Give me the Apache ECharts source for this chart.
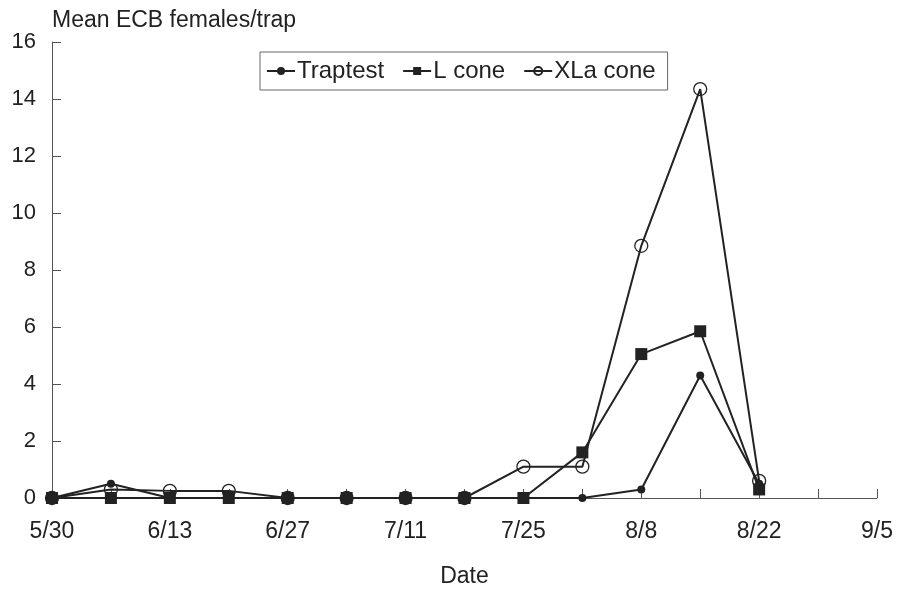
<!DOCTYPE html>
<html>
<head>
<meta charset="utf-8">
<script src="https://cdn.jsdelivr.net/npm/echarts@6/dist/echarts.min.js"></script>
<style>html,body{margin:0;padding:0;background:#fff}#c{width:901px;height:592px}</style>
</head>
<body>
<div id="c"></div>
<script>
// Weekly dates on the x axis (5/30 .. 9/5)
const weeks = ['5/30','6/6','6/13','6/20','6/27','7/4','7/11','7/18','7/25','8/1','8/8','8/15','8/22','8/29','9/5'];
// Series values, one per sampling week (5/30 .. 8/22)
const traptest = [0, 0.5, 0, 0, 0, 0, 0, 0, 0, 0, 0.3, 4.3, 0.5];
const lCone    = [0, 0, 0, 0, 0, 0, 0, 0, 0, 1.6, 5.05, 5.85, 0.3];
const xlaCone  = [0, 0.3, 0.25, 0.25, 0, 0, 0, 0, 1.1, 1.1, 8.85, 14.35, 0.6];
const yTicks = [0, 2, 4, 6, 8, 10, 12, 14, 16];

const font = '"Liberation Sans", Arial, Helvetica, sans-serif';
const ink = '#222';
const chart = echarts.init(document.getElementById('c'), null, {renderer: 'canvas'});
chart.setOption({
  backgroundColor: '#fff',
  animation: false,
  textStyle: {fontFamily: font, color: ink},
  grid: {left: 52, right: 24, top: 42, bottom: 94, containLabel: false, outerBoundsMode: 'none'},
  legend: {
    data: ['Traptest', 'L cone', 'XLa cone'],
    left: 260, top: 52,
    itemWidth: 28, itemHeight: 10, itemGap: 18,
    padding: [7, 12, 7, 6],
    borderColor: '#666', borderWidth: 1,
    textStyle: {fontFamily: font, fontSize: 24, color: ink, padding: [0, 0, 0, -3]}
  },
  xAxis: {
    type: 'category',
    data: weeks,
    boundaryGap: false,
    name: 'Date',
    nameLocation: 'middle',
    nameGap: 67,
    nameTextStyle: {fontFamily: font, fontSize: 23, color: ink},
    axisLine: {lineStyle: {color: '#555', width: 1}},
    axisTick: {inside: true, length: 9, interval: 0, lineStyle: {color: '#555'}},
    axisLabel: {interval: 1, margin: 22, fontFamily: font, fontSize: 23, color: ink},
    splitLine: {show: false}
  },
  yAxis: {
    type: 'value',
    min: yTicks[0], max: yTicks[yTicks.length - 1], interval: 2,
    name: 'Mean ECB females/trap',
    nameLocation: 'end',
    nameGap: 10,
    nameTextStyle: {fontFamily: font, fontSize: 23, color: ink, align: 'left', verticalAlign: 'bottom'},
    axisLine: {show: true, lineStyle: {color: '#555', width: 1}},
    axisTick: {show: true, inside: true, length: 9, lineStyle: {color: '#555'}},
    axisLabel: {margin: 16, fontFamily: font, fontSize: 22, color: ink},
    splitLine: {show: false}
  },
  series: [
    {
      name: 'Traptest', type: 'line', data: traptest, z: 3,
      symbol: 'circle', symbolSize: 8,
      lineStyle: {color: ink, width: 2},
      itemStyle: {color: ink}
    },
    {
      name: 'XLa cone', type: 'line', data: xlaCone, z: 4,
      symbol: 'circle', symbolSize: 13,
      lineStyle: {color: ink, width: 2},
      itemStyle: {color: 'rgba(255,255,255,0)', borderColor: ink, borderWidth: 1.3}
    },
    {
      name: 'L cone', type: 'line', data: lCone, z: 5,
      symbol: 'rect', symbolSize: 12,
      lineStyle: {color: ink, width: 2},
      itemStyle: {color: ink}
    }
  ]
});
</script>
</body>
</html>
